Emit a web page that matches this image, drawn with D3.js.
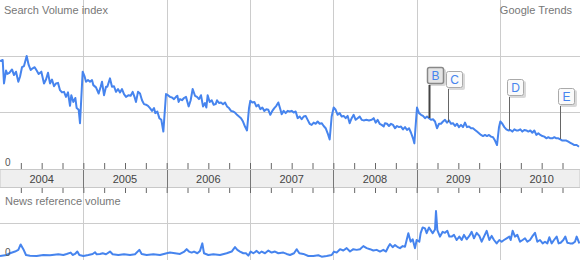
<!DOCTYPE html>
<html>
<head>
<meta charset="utf-8" />
<script src="https://cdnjs.cloudflare.com/ajax/libs/d3/7.8.5/d3.min.js"></script>
<style>
  body { margin: 0; background: #fff; }
  text { font-family: Arial, "Liberation Sans", sans-serif; }
  .tick line { stroke: #666; }
</style>
</head>
<body>
<div id="chart"></div>
<script>
var width = 580, height = 260;

// weekly-ish readings, [decimal year, search volume index]
var searchVolume = [
  [2004.000,1.91],[2004.032,1.93],[2004.048,1.51],[2004.072,1.74],[2004.088,1.68],[2004.112,1.70],
  [2004.144,1.76],[2004.168,1.66],[2004.192,1.72],[2004.220,1.54],[2004.240,1.63],[2004.264,1.80],
  [2004.288,1.82],[2004.320,2.00],[2004.344,1.84],[2004.368,1.75],[2004.392,1.78],[2004.416,1.80],
  [2004.440,1.74],[2004.464,1.68],[2004.496,1.72],[2004.528,1.51],[2004.552,1.58],[2004.576,1.70],
  [2004.600,1.51],[2004.624,1.58],[2004.648,1.46],[2004.672,1.51],[2004.696,1.52],[2004.720,1.39],
  [2004.744,1.35],[2004.768,1.36],[2004.792,1.27],[2004.816,1.35],[2004.840,1.11],[2004.856,1.30],
  [2004.880,1.18],[2004.904,1.25],[2004.920,1.07],[2004.944,1.04],[2004.960,0.80],[2004.992,1.72],
  [2005.016,1.63],[2005.032,1.54],[2005.056,1.57],[2005.080,1.54],[2005.104,1.57],[2005.120,1.48],
  [2005.152,1.44],[2005.184,1.33],[2005.208,1.45],[2005.224,1.54],[2005.248,1.30],[2005.272,1.45],
  [2005.288,1.45],[2005.320,1.60],[2005.344,1.45],[2005.368,1.46],[2005.392,1.36],[2005.416,1.41],
  [2005.440,1.35],[2005.464,1.41],[2005.488,1.32],[2005.512,1.27],[2005.544,1.30],[2005.568,1.29],
  [2005.592,1.36],[2005.616,1.26],[2005.632,1.18],[2005.656,1.36],[2005.680,1.33],[2005.704,1.21],
  [2005.728,1.14],[2005.752,1.13],[2005.776,1.11],[2005.800,1.07],[2005.824,1.02],[2005.848,1.07],
  [2005.864,0.98],[2005.888,1.01],[2005.912,0.89],[2005.936,0.86],[2005.960,0.65],[2005.992,1.32],
  [2006.016,1.30],[2006.040,1.27],[2006.064,1.26],[2006.088,1.23],[2006.112,1.27],[2006.128,1.29],
  [2006.144,1.18],[2006.160,1.23],[2006.184,1.21],[2006.208,1.25],[2006.232,1.27],[2006.264,1.10],
  [2006.288,1.21],[2006.312,1.41],[2006.340,1.29],[2006.364,1.27],[2006.388,1.23],[2006.412,1.30],
  [2006.436,1.10],[2006.460,1.16],[2006.476,1.08],[2006.492,1.30],[2006.516,1.18],[2006.540,1.21],
  [2006.564,1.13],[2006.588,1.14],[2006.604,1.21],[2006.628,1.16],[2006.652,1.17],[2006.676,1.14],
  [2006.700,1.17],[2006.724,1.10],[2006.748,1.07],[2006.772,1.02],[2006.796,1.01],[2006.820,0.99],
  [2006.844,0.95],[2006.868,0.92],[2006.892,0.89],[2006.916,0.83],[2006.940,0.74],[2006.964,0.67],
  [2006.988,1.07],[2007.004,1.20],[2007.028,1.17],[2007.052,1.18],[2007.076,1.10],[2007.100,1.13],
  [2007.124,1.05],[2007.148,1.08],[2007.172,1.02],[2007.196,1.05],[2007.220,1.04],[2007.244,0.95],
  [2007.268,1.02],[2007.292,1.07],[2007.316,1.11],[2007.340,1.17],[2007.364,1.05],[2007.380,0.96],
  [2007.404,1.02],[2007.428,0.98],[2007.452,1.02],[2007.476,1.01],[2007.500,1.02],[2007.524,0.99],
  [2007.548,1.01],[2007.572,0.89],[2007.596,0.92],[2007.620,0.87],[2007.644,0.92],[2007.668,0.93],
  [2007.692,0.86],[2007.716,0.79],[2007.740,0.77],[2007.764,0.81],[2007.788,0.79],[2007.812,0.83],
  [2007.836,0.79],[2007.860,0.80],[2007.884,0.75],[2007.908,0.71],[2007.932,0.62],[2007.956,0.51],
  [2007.980,0.92],[2008.004,1.08],[2008.028,1.04],[2008.052,0.95],[2008.076,0.98],[2008.100,0.92],
  [2008.124,0.93],[2008.148,0.89],[2008.172,0.93],[2008.196,0.80],[2008.220,0.89],[2008.244,0.95],
  [2008.268,0.86],[2008.292,0.89],[2008.316,0.92],[2008.340,0.86],[2008.364,0.85],[2008.396,0.86],
  [2008.428,0.85],[2008.460,0.86],[2008.484,0.89],[2008.508,0.81],[2008.532,0.86],[2008.556,0.79],
  [2008.580,0.77],[2008.604,0.74],[2008.620,0.80],[2008.644,0.79],[2008.668,0.75],[2008.692,0.79],
  [2008.716,0.77],[2008.740,0.71],[2008.764,0.75],[2008.788,0.73],[2008.812,0.74],[2008.836,0.69],
  [2008.860,0.73],[2008.884,0.68],[2008.908,0.71],[2008.932,0.63],[2008.956,0.53],[2008.972,0.44],
  [2009.004,1.08],[2009.028,0.98],[2009.052,0.95],[2009.076,0.93],[2009.100,0.89],[2009.124,0.92],
  [2009.148,0.89],[2009.172,0.86],[2009.196,0.87],[2009.220,0.83],[2009.244,0.71],[2009.268,0.79],
  [2009.292,0.79],[2009.316,0.83],[2009.340,0.86],[2009.364,0.81],[2009.388,0.85],[2009.412,0.79],
  [2009.436,0.80],[2009.460,0.75],[2009.484,0.79],[2009.508,0.73],[2009.532,0.77],[2009.556,0.73],
  [2009.580,0.81],[2009.604,0.73],[2009.628,0.74],[2009.652,0.71],[2009.676,0.71],[2009.700,0.68],
  [2009.724,0.65],[2009.748,0.62],[2009.772,0.59],[2009.796,0.57],[2009.820,0.59],[2009.844,0.57],
  [2009.868,0.59],[2009.892,0.56],[2009.916,0.55],[2009.940,0.49],[2009.964,0.41],[2009.988,0.73],
  [2010.004,0.83],[2010.028,0.79],[2010.052,0.73],[2010.076,0.69],[2010.100,0.67],[2010.124,0.68],
  [2010.148,0.65],[2010.172,0.69],[2010.196,0.67],[2010.220,0.67],[2010.244,0.69],[2010.268,0.65],
  [2010.292,0.68],[2010.316,0.67],[2010.340,0.65],[2010.364,0.67],[2010.388,0.63],[2010.412,0.67],
  [2010.436,0.59],[2010.460,0.62],[2010.484,0.59],[2010.508,0.57],[2010.532,0.56],[2010.556,0.53],
  [2010.580,0.55],[2010.604,0.53],[2010.628,0.53],[2010.652,0.55],[2010.676,0.53],[2010.700,0.53],
  [2010.724,0.51],[2010.748,0.49],[2010.772,0.49],[2010.796,0.49],[2010.820,0.47],[2010.844,0.45],
  [2010.868,0.43],[2010.892,0.41],[2010.920,0.41],[2010.948,0.38]
];

// [decimal year, news reference volume]
var newsVolume = [
  [2004.000,0.03],[2004.080,0.06],[2004.120,0.11],[2004.180,0.16],[2004.220,0.21],[2004.248,0.37],
  [2004.280,0.23],[2004.312,0.06],[2004.360,0.04],[2004.440,0.03],[2004.520,0.06],[2004.600,0.05],
  [2004.700,0.08],[2004.760,0.06],[2004.800,0.09],[2004.848,0.13],[2004.872,0.06],[2004.900,0.09],
  [2004.928,0.16],[2004.952,0.06],[2005.000,0.03],[2005.060,0.06],[2005.112,0.09],[2005.140,0.14],
  [2005.160,0.08],[2005.200,0.09],[2005.232,0.11],[2005.272,0.08],[2005.320,0.16],[2005.352,0.08],
  [2005.420,0.06],[2005.488,0.08],[2005.560,0.06],[2005.620,0.08],[2005.672,0.21],[2005.700,0.09],
  [2005.760,0.06],[2005.840,0.08],[2005.920,0.06],[2006.000,0.11],[2006.040,0.13],[2006.100,0.11],
  [2006.160,0.09],[2006.212,0.16],[2006.240,0.23],[2006.268,0.16],[2006.300,0.13],[2006.328,0.16],
  [2006.368,0.11],[2006.400,0.18],[2006.428,0.40],[2006.448,0.11],[2006.500,0.06],[2006.560,0.08],
  [2006.640,0.06],[2006.720,0.11],[2006.780,0.16],[2006.820,0.29],[2006.848,0.21],[2006.880,0.16],
  [2006.920,0.11],[2006.952,0.11],[2006.980,0.04],[2007.008,0.16],[2007.040,0.11],[2007.080,0.18],
  [2007.112,0.11],[2007.140,0.16],[2007.180,0.11],[2007.220,0.19],[2007.260,0.13],[2007.300,0.16],
  [2007.340,0.11],[2007.400,0.13],[2007.440,0.09],[2007.480,0.06],[2007.528,0.11],[2007.560,0.23],
  [2007.592,0.11],[2007.640,0.09],[2007.700,0.03],[2007.760,0.03],[2007.820,0.05],[2007.860,0.01],
  [2007.920,0.03],[2007.980,0.06],[2008.008,0.16],[2008.040,0.13],[2008.080,0.23],[2008.120,0.19],
  [2008.160,0.26],[2008.200,0.16],[2008.240,0.23],[2008.280,0.21],[2008.320,0.23],[2008.360,0.32],
  [2008.400,0.26],[2008.440,0.23],[2008.480,0.19],[2008.520,0.21],[2008.560,0.16],[2008.600,0.21],
  [2008.632,0.16],[2008.660,0.30],[2008.680,0.38],[2008.712,0.29],[2008.740,0.35],[2008.768,0.30],
  [2008.800,0.26],[2008.832,0.32],[2008.860,0.30],[2008.900,0.70],[2008.928,0.45],[2008.952,0.52],
  [2008.980,0.26],[2009.000,0.50],[2009.032,0.45],[2009.048,0.70],[2009.072,0.87],[2009.100,0.84],
  [2009.120,0.70],[2009.148,0.87],[2009.168,0.79],[2009.192,0.70],[2009.220,0.81],[2009.232,1.35],
  [2009.248,0.79],[2009.280,0.60],[2009.312,0.74],[2009.340,0.71],[2009.368,0.77],[2009.392,0.60],
  [2009.420,0.60],[2009.448,0.65],[2009.480,0.50],[2009.512,0.60],[2009.540,0.50],[2009.568,0.65],
  [2009.600,0.52],[2009.632,0.62],[2009.660,0.74],[2009.688,0.55],[2009.720,0.71],[2009.752,0.62],
  [2009.780,0.45],[2009.808,0.60],[2009.840,0.77],[2009.872,0.50],[2009.900,0.62],[2009.928,0.50],
  [2009.960,0.40],[2009.992,0.50],[2010.020,0.45],[2010.048,0.50],[2010.080,0.55],[2010.112,0.60],
  [2010.128,0.50],[2010.152,0.77],[2010.180,0.60],[2010.208,0.65],[2010.240,0.45],[2010.272,0.50],
  [2010.300,0.55],[2010.328,0.45],[2010.360,0.50],[2010.392,0.62],[2010.420,0.71],[2010.448,0.45],
  [2010.480,0.50],[2010.512,0.40],[2010.540,0.45],[2010.568,0.40],[2010.592,0.58],[2010.620,0.40],
  [2010.648,0.50],[2010.680,0.60],[2010.704,0.40],[2010.728,0.42],[2010.760,0.50],[2010.784,0.60],
  [2010.808,0.42],[2010.840,0.40],[2010.872,0.40],[2010.900,0.45],[2010.920,0.60],[2010.952,0.40]
];

var years = [2004, 2005, 2006, 2007, 2008, 2009, 2010];
var noteLetters = ["B", "C", "D", "E"];
var noteDates = [2009.148, 2009.376, 2010.108, 2010.720];

var blue = "#4684ee";

var svg = d3.select("#chart").append("svg")
  .attr("width", width)
  .attr("height", height);

var x = d3.scaleLinear().domain([2004, 2010.96]).range([0, width]);
var ySearch = d3.scaleLinear().domain([0, 3]).range([168, 0]);
var yNews = d3.scaleLinear().domain([0, 1]).range([257, 223]);

// horizontal gridlines
svg.selectAll(".hgrid-top")
  .data([1, 2])
  .enter().append("line")
    .attr("x1", 0).attr("x2", width)
    .attr("y1", function(d) { return Math.round(ySearch(d)) + 0.5; })
    .attr("y2", function(d) { return Math.round(ySearch(d)) + 0.5; })
    .attr("stroke", "#cccccc");

svg.append("line")
  .attr("x1", 0).attr("x2", width)
  .attr("y1", Math.round(yNews(1)) + 0.5)
  .attr("y2", Math.round(yNews(1)) + 0.5)
  .attr("stroke", "#cccccc");

// vertical year gridlines, full height
svg.selectAll(".vgrid")
  .data(years.slice(1))
  .enter().append("line")
    .attr("x1", function(d) { return Math.round(x(d)) + 0.5; })
    .attr("x2", function(d) { return Math.round(x(d)) + 0.5; })
    .attr("y1", 0).attr("y2", height)
    .attr("stroke", "#cccccc");

// date band
svg.append("rect")
  .attr("x", 0).attr("y", 169.5)
  .attr("width", width).attr("height", 18)
  .attr("fill", "#efefef")
  .attr("stroke", "#c8c8c8");

svg.selectAll(".band-div")
  .data(years.slice(1))
  .enter().append("line")
    .attr("x1", function(d) { return Math.round(x(d)) + 0.5; })
    .attr("x2", function(d) { return Math.round(x(d)) + 0.5; })
    .attr("y1", 170).attr("y2", 188)
    .attr("stroke", "#777");

// quarter ticks above and below the band
var quarters = d3.range(2004.25, 2010.96, 0.25);

svg.append("g")
  .attr("transform", "translate(0,169)")
  .call(d3.axisTop(x).tickValues(quarters).tickSize(6).tickFormat(""))
  .call(function(g) { g.select(".domain").remove(); });

svg.append("g")
  .attr("transform", "translate(0,188)")
  .call(d3.axisBottom(x).tickValues(quarters).tickSize(5).tickFormat(""))
  .call(function(g) { g.select(".domain").remove(); });

svg.selectAll(".year-label")
  .data(years)
  .enter().append("text")
    .attr("x", function(d) { return x(d + 0.5); })
    .attr("y", 183)
    .attr("text-anchor", "middle")
    .attr("font-size", "11px")
    .attr("fill", "#444")
    .text(function(d) { return d; });

// series lines
var lineSearch = d3.line()
  .x(function(d) { return x(d[0]); })
  .y(function(d) { return ySearch(d[1]); });

var lineNews = d3.line()
  .x(function(d) { return x(d[0]); })
  .y(function(d) { return yNews(d[1]); });

svg.append("path")
  .datum(searchVolume)
  .attr("d", lineSearch)
  .attr("fill", "none")
  .attr("stroke", blue)
  .attr("stroke-width", 2)
  .attr("stroke-linejoin", "round");

svg.append("path")
  .datum(newsVolume)
  .attr("d", lineNews)
  .attr("fill", "none")
  .attr("stroke", blue)
  .attr("stroke-width", 2)
  .attr("stroke-linejoin", "round");

// annotation flags
var bisect = d3.bisector(function(d) { return d[0]; }).left;
function searchAt(t) {
  var i = bisect(searchVolume, t);
  var a = searchVolume[Math.max(0, i - 1)], b = searchVolume[Math.min(searchVolume.length - 1, i)];
  if (b[0] === a[0]) return a[1];
  return a[1] + (b[1] - a[1]) * (t - a[0]) / (b[0] - a[0]);
}

var notes = svg.selectAll(".note")
  .data(noteLetters)
  .enter().append("g")
    .attr("class", "note")
    .attr("transform", function(d, i) {
      return "translate(" + Math.round(x(noteDates[i])) + "," + Math.round(ySearch(searchAt(noteDates[i]))) + ")";
    });

notes.append("line")
  .attr("x1", 0.5).attr("x2", 0.5)
  .attr("y1", -33).attr("y2", 0)
  .attr("stroke", function(d, i) { return i === 0 ? "#444" : "#666"; })
  .attr("stroke-width", function(d, i) { return i === 0 ? 2 : 1; });

notes.append("rect")
  .attr("x", 0).attr("y", -49)
  .attr("width", 17).attr("height", 17)
  .attr("rx", 2)
  .attr("fill", "#000")
  .attr("opacity", 0.15);

notes.append("rect")
  .attr("x", -1.5).attr("y", -50.5)
  .attr("width", 16).attr("height", 16)
  .attr("rx", 2)
  .attr("fill", function(d, i) { return i === 0 ? "#e4e4e4" : "#fafafa"; })
  .attr("stroke", function(d, i) { return i === 0 ? "#888" : "#aaa"; })
  .attr("stroke-width", function(d, i) { return i === 0 ? 1.5 : 1; });

notes.append("text")
  .attr("x", 6.5).attr("y", -38)
  .attr("text-anchor", "middle")
  .attr("font-size", "12px")
  .attr("fill", blue)
  .text(function(d) { return d; });

// titles and zero labels
svg.append("text")
  .attr("x", 4).attr("y", 14)
  .attr("font-size", "11px").attr("fill", "#777")
  .text("Search Volume index");

svg.append("text")
  .attr("x", 572).attr("y", 14)
  .attr("text-anchor", "end")
  .attr("font-size", "11px").attr("fill", "#777")
  .text("Google Trends");

svg.append("text")
  .attr("x", 5).attr("y", 205)
  .attr("font-size", "11px").attr("fill", "#777")
  .text("News reference volume");

svg.append("text")
  .attr("x", 5).attr("y", ySearch(0) - 2)
  .attr("font-size", "10px").attr("fill", "#555")
  .text("0");

svg.append("text")
  .attr("x", 5).attr("y", yNews(0) - 1)
  .attr("font-size", "10px").attr("fill", "#555")
  .text("0");
</script>
</body>
</html>
